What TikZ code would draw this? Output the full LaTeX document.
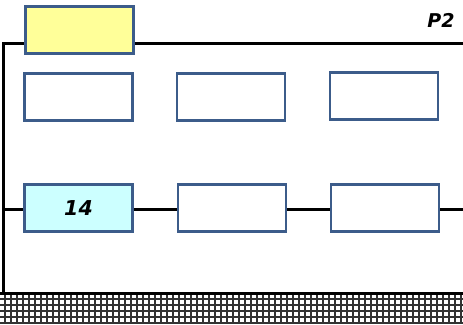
\documentclass[tikz,border=0pt]{standalone}
\usepackage{fontspec}
\setmainfont{DejaVu Sans}
\definecolor{boxblue}{RGB}{60,92,138}
\definecolor{yel}{RGB}{255,255,153}
\definecolor{cyn}{RGB}{204,255,255}
\tikzset{
  blk/.style={draw=boxblue, line width=2.6pt, minimum width=108pt, minimum height=47pt, inner sep=0pt, fill=white},
  wire/.style={line width=3pt, black},
  lbl/.style={font=\fontsize{19}{21}\selectfont\bfseries\itshape}
}
\begin{document}
\begin{tikzpicture}[x=1pt,y=-1pt]
\useasboundingbox (0,0) rectangle (463,324);
% hatched floor
\fill[white] (0,293) rectangle (463,324);
\foreach \x in {5,11,...,463} \draw[black!80, line width=2pt] (\x,293) -- (\x,324);
\foreach \y in {299,305,311,317,323} \draw[black!80, line width=2pt] (0,\y) -- (463,\y);
% frame wires
\coordinate (tl) at (3.5,43);
\coordinate (tr) at (463,43);
\coordinate (bl) at (3.5,293);
\coordinate (br) at (463,293);
\coordinate (ml) at (3.5,209);
\coordinate (mr) at (463,209);
\draw[wire] (tr) -- (tl) -- (bl);
\draw[wire] (0,293) -- (br);
% nodes
\node[blk, fill=yel] (top) at (79.5,30) {};
\node[blk] (a1) at (78.5,97) {};
\node[blk] (a2) at (231,97) {};
\node[blk] (a3) at (384,96) {};
\node[blk, fill=cyn, lbl, font=\fontsize{20.5}{22}\selectfont\bfseries\itshape] (b1) at (78.5,208) {14};
\node[blk] (b2) at (232,208) {};
\node[blk] (b3) at (385,208) {};
\node[lbl, anchor=center] (p2) at (441,20) {P2};
% row wires
\draw[wire] (ml) -- (b1.west |- ml);
\draw[wire] (b1.east |- ml) -- (b2.west |- ml);
\draw[wire] (b2.east |- ml) -- (b3.west |- ml);
\draw[wire] (b3.east |- ml) -- (mr);
\end{tikzpicture}
\end{document}
